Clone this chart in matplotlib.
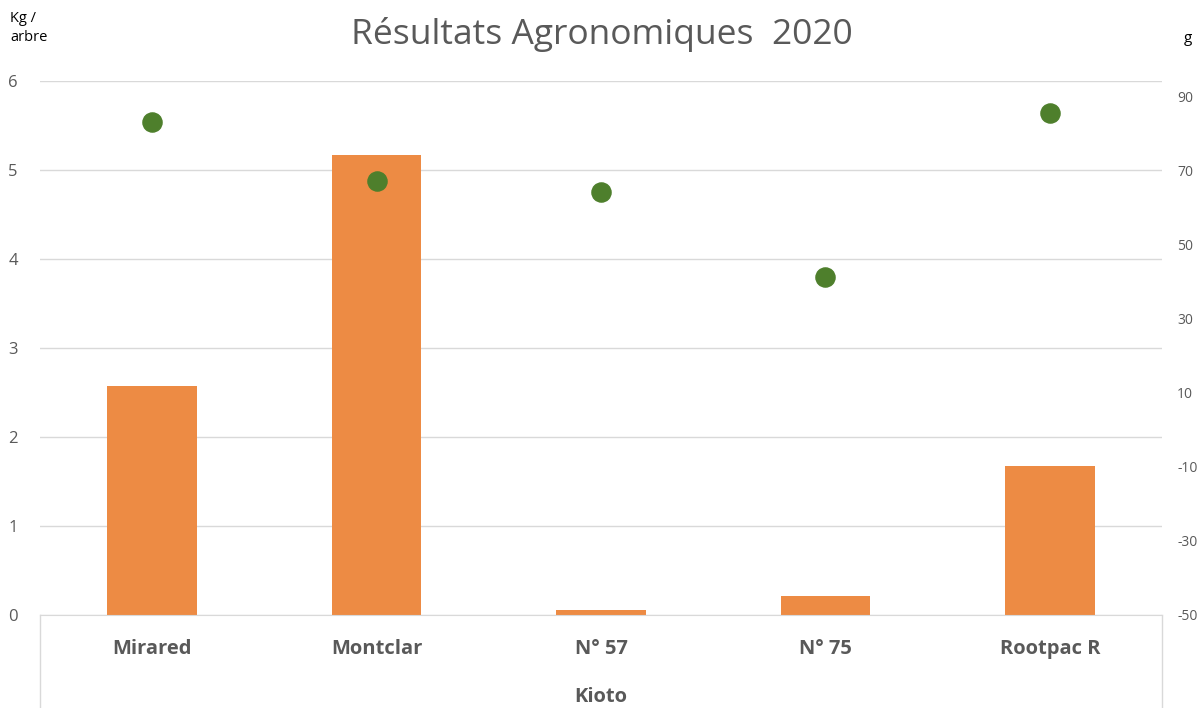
import matplotlib
matplotlib.use('Agg')
import numpy as np
from matplotlib import pyplot as plt

# data
varieties = ['Mirared', 'Montclar', 'N° 57', 'N° 75', 'Rootpac R']
group_label = 'Kioto'
kg_per_tree = [2.57, 5.17, 0.06, 0.21, 1.67]
fruit_weight = [83.2, 67.3, 64.3, 41.4, 85.7]
left_ticks = [0, 1, 2, 3, 4, 5, 6]
right_ticks = [-50, -30, -10, 10, 30, 50, 70, 90]

plt.rcParams['font.family'] = ['Open Sans', 'DejaVu Sans']
plt.rcParams['axes.unicode_minus'] = False
grey = '#595959'

fig = plt.figure(figsize=(12.01, 7.08), dpi=100)
ax = fig.add_axes([40 / 1201, 1 - 615 / 708, (1162 - 40) / 1201, (615 - 81) / 708])

x = np.arange(len(varieties))
ax.bar(x, kg_per_tree, width=0.4, color='#ED8B44', zorder=2)
ax.set_xlim(-0.5, len(varieties) - 0.5)
ax.set_ylim(0, 6)
ax.set_yticks(left_ticks)
ax.grid(axis='y', color='#d9d9d9', linewidth=1, zorder=0)
for s in ['top', 'left', 'right']:
    ax.spines[s].set_visible(False)
ax.spines['bottom'].set_color('#d9d9d9')
ax.tick_params(axis='y', length=0, pad=16, labelsize=12, labelcolor=grey)
ax.set_xticks(x)
ax.set_xticklabels(varieties, fontsize=14.5, fontweight='bold', color=grey)
ax.tick_params(axis='x', length=0, pad=17)

ax2 = ax.twinx()
ax2.scatter(x, fruit_weight, s=190, color='#4E7F2C', zorder=3)
ax2.set_ylim(-50, 94.3)
ax2.set_yticks(right_ticks)
for s in ax2.spines.values():
    s.set_visible(False)
ax2.tick_params(axis='y', length=0, pad=11, labelsize=10, labelcolor=grey)

# group label and box lines of the two-level category axis
ax.text(0.5, -0.153, group_label, transform=ax.transAxes, ha='center', va='center',
        fontsize=14.5, fontweight='bold', color=grey)
for xx in [0, 1]:
    ax.plot([xx, xx], [0, -0.175], transform=ax.transAxes, color='#d9d9d9',
            linewidth=1, clip_on=False)

fig.text(602 / 1201, 1 - 35 / 708, 'Résultats Agronomiques  2020', ha='center', va='center',
         fontsize=25.5, color=grey)
fig.text(10 / 1201, 1 - 28 / 708, 'Kg /\narbre', ha='left', va='center', fontsize=10.5,
         color='black', linespacing=1.3)
fig.text(1188 / 1201, 1 - 38 / 708, 'g', ha='center', va='center', fontsize=11, color='black')

plt.savefig('out.png', dpi=100)
